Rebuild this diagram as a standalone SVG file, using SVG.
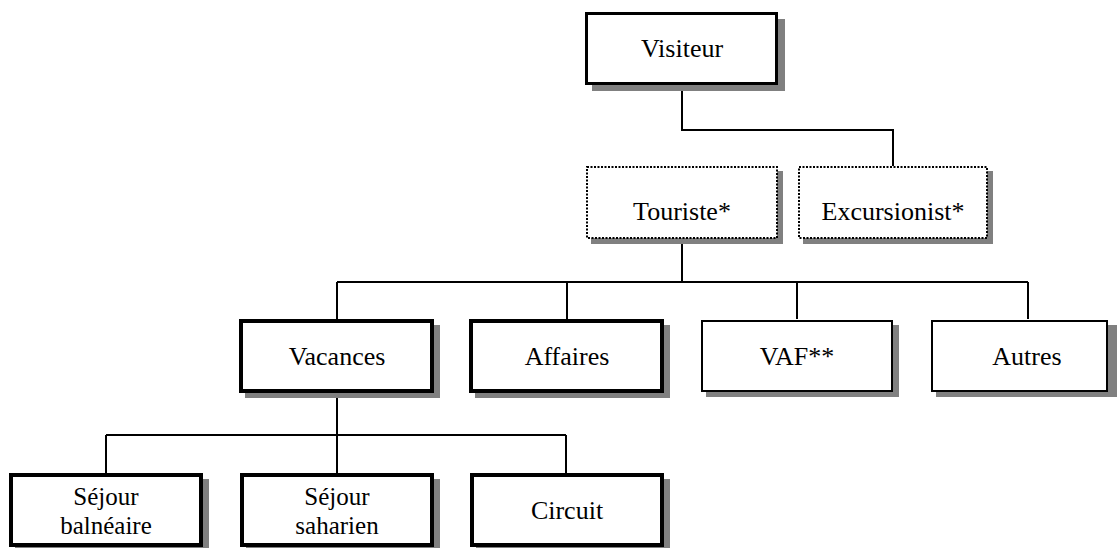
<svg xmlns="http://www.w3.org/2000/svg" width="1117" height="548" viewBox="0 0 1117 548">
<style>
.sh{fill:#808080;stroke:none}
.bx{fill:#fff;stroke:#000}
.b3{stroke-width:3}
.b4{stroke-width:4}
.b2{stroke-width:2}
.dot{stroke-width:2;stroke-dasharray:2 1.5}
.t{font-family:"Liberation Serif","Times New Roman",serif;font-size:26px;fill:#000;text-anchor:middle}
.t2{font-size:25px}
.c{fill:none;stroke:#000;stroke-width:2}
</style>
<rect width="1117" height="548" fill="#fff"/>
<g id="connectors">
<path class="c" d="M682 85V130H893V166"/>
<path class="c" d="M682 240V282M337 282H1028M337 282V319M567 282V319M797 282V319M1028 282V319"/>
<path class="c" d="M337 393V473M106 435H566M106 435V473M566 435V473"/>
</g>
<g id="visiteur">
<rect class="sh" x="592" y="19" width="193" height="72"/>
<rect class="bx b3" x="586.5" y="13.5" width="190" height="70"/>
<text class="t" x="682" y="57">Visiteur</text>
</g>
<g id="touriste">
<rect class="sh" x="591" y="171" width="192" height="73"/>
<rect class="bx dot" x="587" y="167" width="190" height="71"/>
<text class="t" x="682" y="220">Touriste*</text>
</g>
<g id="excursionist">
<rect class="sh" x="803" y="171" width="190" height="73"/>
<rect class="bx dot" x="799" y="167" width="188" height="71"/>
<text class="t" x="893" y="220">Excursionist*</text>
</g>
<g id="vacances">
<rect class="sh" x="245" y="325" width="195" height="73"/>
<rect class="bx b4" x="241" y="321" width="191" height="70"/>
<text class="t" x="337" y="365">Vacances</text>
</g>
<g id="affaires">
<rect class="sh" x="475" y="325" width="195" height="73"/>
<rect class="bx b4" x="471" y="321" width="191" height="70"/>
<text class="t" x="567" y="365">Affaires</text>
</g>
<g id="vaf">
<rect class="sh" x="706" y="325" width="193" height="72"/>
<rect class="bx b2" x="702" y="321" width="190" height="70"/>
<text class="t" x="797" y="365">VAF**</text>
</g>
<g id="autres">
<rect class="sh" x="936" y="325" width="190" height="72"/>
<rect class="bx b2" x="932" y="321" width="175" height="70"/>
<text class="t" x="1027" y="365">Autres</text>
</g>
<g id="sejour-balneaire">
<rect class="sh" x="15" y="479" width="194" height="73"/>
<rect class="bx b4" x="11" y="475" width="190" height="70"/>
<text class="t t2" x="106" y="505">Séjour<tspan x="106" dy="29">balnéaire</tspan></text>
</g>
<g id="sejour-saharien">
<rect class="sh" x="246" y="479" width="194" height="73"/>
<rect class="bx b4" x="242" y="475" width="190" height="70"/>
<text class="t t2" x="337" y="505">Séjour<tspan x="337" dy="29">saharien</tspan></text>
</g>
<g id="circuit">
<rect class="sh" x="476" y="479" width="194" height="73"/>
<rect class="bx b4" x="472" y="475" width="190" height="70"/>
<text class="t" x="567" y="519">Circuit</text>
</g>
</svg>
